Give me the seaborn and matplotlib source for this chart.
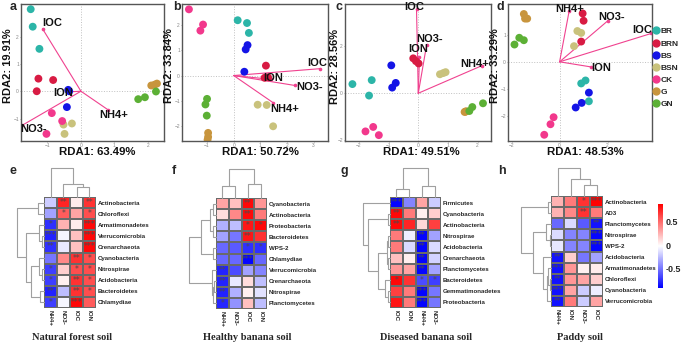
import numpy as np
import pandas as pd
import matplotlib
matplotlib.use('Agg')
import matplotlib.pyplot as plt
from matplotlib.lines import Line2D
import seaborn as sns

# ---------------- data ----------------
groups = ['BR', 'BRN', 'BS', 'BSN', 'CK', 'G', 'GN']
group_col = [g for g in groups for _ in range(3)]
palette = {'BR': '#2cb5a8', 'BRN': '#d81b43', 'BS': '#1414e6', 'BSN': '#c9c27c',
           'CK': '#f2388c', 'G': '#c8953d', 'GN': '#5cb035'}
env = ['IOC', 'ION', 'NO3-', 'NH4+']

a_x = [-1.50, -1.44, -1.24, -1.27, -0.83, -1.32, -0.38, -0.42, -0.35, -0.52, -0.27, -0.49,
       -0.87, -0.56, -1.03, 2.10, 2.27, 2.20, 1.71, 1.91, 2.24]
a_y = [3.00, 2.36, 1.55, 0.46, 0.41, 0.00, 0.05, -0.58, 0.00, -1.22, -1.18, -1.56,
       -0.80, -1.09, -1.56, 0.21, 0.28, 0.24, -0.29, -0.22, -0.01]
b_x = [0.15, 0.50, 0.57, 1.21, 1.16, 1.29, 0.52, 0.45, 0.40, 0.90, 1.24, 1.48,
       -1.68, -1.15, -1.25, -0.96, -0.96, -0.98, -1.00, -1.06, -1.01]
b_y = [2.18, 2.07, 1.68, 0.39, -0.09, -0.07, 1.20, 1.03, 0.15, -1.15, -1.16, -2.00,
       2.61, 2.01, 1.77, -2.26, -2.42, -2.53, -0.92, -1.14, -1.58]
c_x = [-2.22, -1.57, -1.66, -0.17, -0.08, 0.01, -0.91, -0.76, -0.88, 0.73, 0.92, 0.84,
       -1.78, -1.52, -1.33, 1.56, 1.61, 1.59, 1.72, 1.82, 2.18]
c_y = [0.39, 0.56, -0.10, 1.49, 1.37, 1.27, 1.19, 0.44, 0.24, 0.81, 0.90, 0.86,
       -1.63, -1.44, -1.79, -0.80, -0.77, -0.79, -0.76, -0.59, -0.43]
d_x = [0.90, 1.08, 1.22, 0.96, 1.00, 0.90, 1.22, 0.92, 0.67, 0.74, 0.90, 0.60,
       -0.25, -0.38, -0.64, -1.49, -1.44, -1.35, -1.88, -1.68, -1.49]
d_y = [-0.80, -0.69, -1.46, 1.79, 1.52, 0.75, -1.14, -1.52, -1.69, 1.14, 1.07, 0.58,
       -2.05, -2.31, -2.70, 1.77, 1.60, 1.60, 0.64, 0.89, 0.80]

a_env_x = [-1.14, -0.33, -1.76, 0.81]
a_env_y = [2.27, -0.02, -1.25, -0.68]
b_env_x = [3.23, 1.41, 2.29, 1.48]
b_env_y = [0.27, -0.15, -0.39, -1.07]
c_env_x = [-0.06, 0.04, 0.28, 2.13]
c_env_y = [3.59, 1.55, 2.06, 1.17]
d_env_x = [3.82, 1.32, 2.01, 0.40]
d_env_y = [1.05, -0.19, 1.52, 1.89]

rda1_labels = ['RDA1: 63.49%', 'RDA1: 50.72%', 'RDA1: 49.51%', 'RDA1: 48.53%']
rda2_labels = ['RDA2: 19.91%', 'RDA2: 33.84%', 'RDA2: 28.56%', 'RDA2: 33.29%']

e_rows = ['Actinobacteria', 'Chloroflexi', 'Armatimonadetes', 'Verrucomicrobia', 'Crenarchaeota',
          'Cyanobacteria', 'Nitrospirae', 'Acidobacteria', 'Bacteroidetes', 'Chlamydiae']
e_cols = ['NH4+', 'NO3-', 'IOC', 'ION']
e_vals = [[-0.20, 0.75, 0.05, 0.70], [-0.35, 0.55, 0.30, 0.60], [-0.75, 0.25, 0.05, 0.85],
          [-0.80, -0.05, 0.20, 0.85], [-0.75, -0.10, 0.20, 0.85], [-0.50, 0.40, 0.70, 0.60],
          [-0.70, 0.15, 0.60, 0.60], [-0.70, 0.03, 0.70, 0.60], [-0.80, -0.25, 0.70, 0.60],
          [-0.70, -0.05, 0.85, 0.55]]
e_sig = [['', '**', '', '**'], ['', '*', '', '*'], ['*', '', '', '***'], ['***', '', '', '***'],
         ['**', '', '', '***'], ['', '', '**', '*'], ['*', '', '*', '*'], ['*', '', '**', '*'],
         ['**', '', '**', '*'], ['*', '', '***', '']]

f_rows = ['Cyanobacteria', 'Actinobacteria', 'Proteobacteria', 'Bacteroidetes', 'WPS-2',
          'Chlamydiae', 'Verrucomicrobia', 'Crenarchaeota', 'Nitrospirae', 'Planctomycetes']
f_cols = ['NH4+', 'NO3-', 'IOC', 'ION']
f_vals = [[0.30, 0.20, 0.85, 0.35], [0.10, 0.40, 0.85, 0.45], [-0.30, -0.25, 0.80, 0.85],
          [-0.35, -0.50, 0.80, 0.70], [-0.55, -0.60, -0.75, -0.75], [-0.55, -0.55, -0.90, -0.55],
          [-0.80, -0.65, -0.35, -0.45], [-0.80, -0.10, 0.10, -0.25], [-0.80, -0.30, 0.03, -0.12],
          [-0.78, -0.40, 0.20, -0.25]]
f_sig = [['', '', '**', ''], ['', '', '**', ''], ['', '', '*', '*'], ['', '', '**', ''],
         ['', '', '*', '*'], ['', '', '***', ''], ['**', '', '', ''], ['**', '', '', ''],
         ['**', '', '', ''], ['*', '', '', '']]

g_rows = ['Firmicutes', 'Cyanobacteria', 'Actinobacteria', 'Nitrospirae', 'Acidobacteria',
          'Crenarchaeota', 'Planctomycetes', 'Bacteroidetes', 'Gemmatimonadetes', 'Proteobacteria']
g_cols = ['IOC', 'ION', 'NH4+', 'NO3-']
g_vals = [[-0.90, -0.45, 0.30, -0.20], [0.85, 0.45, 0.03, 0.15], [0.85, 0.75, 0.12, 0.65],
          [0.45, -0.08, -0.90, -0.35], [0.45, -0.15, -0.90, -0.15], [0.20, 0.04, -0.90, -0.18],
          [0.35, 0.30, -0.90, -0.35], [0.85, 0.70, -0.65, -0.70], [0.65, 0.45, -0.90, -0.50],
          [0.80, 0.45, -0.90, -0.50]]
g_sig = [['***', '', '', ''], ['**', '', '', ''], ['**', '', '', ''], ['', '', '**', ''],
         ['', '', '**', ''], ['', '', '**', ''], ['', '', '**', ''], ['*', '', '*', '*'],
         ['', '', '***', ''], ['', '', '***', '']]

h_rows = ['Actinobacteria', 'AD3', 'Planctomycetes', 'Nitrospirae', 'WPS-2', 'Acidobacteria',
          'Armatimonadetes', 'Chloroflexi', 'Cyanobacteria', 'Verrucomicrobia']
h_cols = ['NH4+', 'ION', 'NO3-', 'IOC']
h_vals = [[0.25, 0.45, 0.70, 0.87], [0.25, 0.40, 0.70, 0.45], [-0.55, -0.15, -0.60, -0.85],
          [-0.15, -0.45, -0.45, -0.90], [-0.10, -0.45, -0.45, -0.90], [-0.85, 0.15, -0.50, -0.35],
          [-0.85, 0.35, 0.03, 0.05], [-0.85, 0.35, 0.30, 0.15], [-0.85, 0.30, -0.20, -0.08],
          [-0.85, 0.45, -0.20, 0.30]]
h_sig = [['', '', '*', '***'], ['', '', '**', ''], ['', '', '', '**'], ['', '', '', '***'],
         ['', '', '', '***'], ['**', '', '', ''], ['***', '', '', ''], ['**', '', '', ''],
         ['***', '', '', ''], ['**', '', '', '']]

# dendrogram merges (a, b, height); new cluster ids start at n
e_row_tree = [(3, 4, 0.09), (2, 10, 0.18), (0, 1, 0.21), (6, 7, 0.09), (5, 13, 0.18),
              (8, 9, 0.13), (14, 15, 0.50), (11, 16, 0.65), (12, 17, 1.0)]
e_col_tree = [(2, 3, 0.34), (1, 4, 0.44), (0, 5, 1.0)]
f_row_tree = [(0, 1, 0.10), (2, 3, 0.12), (10, 11, 0.22), (4, 5, 0.10), (12, 13, 0.55),
              (7, 8, 0.06), (15, 9, 0.10), (6, 16, 0.16), (14, 17, 1.0)]
f_col_tree = [(0, 1, 0.40), (2, 3, 0.48), (4, 5, 1.0)]
g_row_tree = [(1, 2, 0.09), (3, 4, 0.06), (5, 6, 0.06), (11, 12, 0.12), (8, 9, 0.06),
              (7, 14, 0.19), (13, 15, 0.44), (10, 16, 0.81), (0, 17, 1.0)]
g_col_tree = [(0, 1, 0.27), (2, 3, 0.39), (4, 5, 1.0)]
h_row_tree = [(0, 1, 0.09), (3, 4, 0.05), (2, 11, 0.16), (7, 8, 0.05), (6, 13, 0.09),
              (14, 9, 0.13), (5, 15, 0.27), (12, 16, 0.60), (10, 17, 1.0)]
h_col_tree = [(2, 3, 0.40), (1, 4, 0.60), (0, 5, 1.0)]

titles = ['Natural forest soil', 'Healthy banana soil', 'Diseased banana soil', 'Paddy soil']

# ---------------- style ----------------
sns.set_theme(style='white')
plt.rcParams['font.family'] = ['Liberation Sans', 'DejaVu Sans']

W, H = 685, 344
fig = plt.figure(figsize=(W / 100, H / 100), dpi=100)
fig.patch.set_facecolor('white')


def fa(x0, y0, x1, y1):
    return fig.add_axes([x0 / W, 1 - y1 / H, (x1 - x0) / W, (y1 - y0) / H])


PINK = '#f0428f'

top_boxes = [(21, 4, 164, 141), (182, 4, 328, 141), (345, 4, 491, 141), (508, 4, 652, 141)]
limits = [((-1.79, 2.48), (-1.82, 3.19)), ((-1.94, 3.54), (-2.58, 2.82)),
          ((-2.47, 2.45), (-2.04, 3.81)), ((-2.15, 3.85), (-2.93, 2.14))]
xticks = [[-1, 0, 1, 2], [-1, 0, 1, 2, 3], [-2, -1, 0, 1, 2], [-2, 0, 2]]
yticks = [[-1, 0, 1, 2], [-2, -1, 0, 1, 2], [-2, 0, 2], [-2, -1, 0, 1]]
# label offsets in px (IOC, ION, NO3-, NH4+)
offsets = [[(9, 6), (-7, -1), (12, -4), (6, -5)],
           [(-3, 6), (2, 1), (15, -2), (12, -6)],
           [(-2, 2), (-1, 8), (3, 6), (-7, 2)],
           [(-9, 3), (10, -1), (4, 4), (0, 2)]]
pts = [(a_x, a_y), (b_x, b_y), (c_x, c_y), (d_x, d_y)]
envs = [(a_env_x, a_env_y), (b_env_x, b_env_y), (c_env_x, c_env_y), (d_env_x, d_env_y)]
letters_top = ['a', 'b', 'c', 'd']
letter_top_x = [13, 177, 339, 500]
ylab_px = [8.5, 168.5, 334.5, 495.5]
xlab_px = [97, 260, 421, 585]

for i in range(4):
    bx0, by0, bx1, by1 = top_boxes[i]
    ax = fa(bx0, by0, bx1, by1)
    xs, ys = pts[i]
    df = pd.DataFrame({'x': xs, 'y': ys, 'g': group_col})
    ax.axhline(0, color='#c0c0c0', ls=':', lw=0.7, zorder=0)
    ax.axvline(0, color='#c0c0c0', ls=':', lw=0.7, zorder=0)
    ex, ey = envs[i]
    for lbl, x, y, (dx, dy) in zip(env, ex, ey, offsets[i]):
        ax.plot([0, x], [0, y], color=PINK, lw=0.8, zorder=1)
        ax.plot([x], [y], 'o', color=PINK, ms=1.6, zorder=1)
    sns.scatterplot(data=df, x='x', y='y', hue='g', hue_order=groups, palette=palette,
                    s=32, edgecolor='none', legend=False, ax=ax, zorder=2)
    for lbl, x, y, (dx, dy) in zip(env, ex, ey, offsets[i]):
        ax.annotate(lbl, (x, y), xytext=(dx * 0.72, dy * 0.72), textcoords='offset points',
                    ha='center', va='center', fontsize=8, fontweight='bold', color='#111', zorder=3)
    ax.set_xlim(*limits[i][0])
    ax.set_ylim(*limits[i][1])
    ax.set_xticks(xticks[i])
    ax.set_yticks(yticks[i])
    ax.tick_params(labelsize=3.5, colors='#888', length=1, width=0.5, pad=0.5,
                   bottom=True, left=True)
    for s in ax.spines.values():
        s.set_color('#555')
        s.set_linewidth(1.0)
    ax.set_xlabel(rda1_labels[i], fontsize=8.2, fontweight='bold', color='#111', va='center')
    ax.set_ylabel(rda2_labels[i], fontsize=8, fontweight='bold', color='#111', va='center')
    bw, bh = bx1 - bx0, by1 - by0
    ax.xaxis.set_label_coords((xlab_px[i] - bx0) / bw, (by1 - 152) / bh)
    ax.yaxis.set_label_coords((ylab_px[i] - bx0) / bw, (by1 - 66) / bh)
    fig.text(letter_top_x[i] / W, 1 - 7 / H, letters_top[i], fontsize=9, fontweight='bold',
             ha='center', va='center')

handles = [Line2D([], [], marker='o', ls='', color=palette[g], markersize=5) for g in groups]
fig.legend(handles, groups, loc='upper left', bbox_to_anchor=(653 / W, 1 - 27.5 / H),
           frameon=False, prop={'size': 6, 'weight': 'bold'}, handlelength=0.6,
           handletextpad=0.3, labelspacing=0.52, borderpad=0, borderaxespad=0)


def draw_tree(ax, tree, n, orient):
    pos = {k: k + 0.5 for k in range(n)}
    hgt = {k: 0.0 for k in range(n)}
    for k, (a, b, h) in enumerate(tree):
        pa, pb, ha, hb = pos[a], pos[b], hgt[a], hgt[b]
        p = [pa, pa, pb, pb]
        q = [ha, h, h, hb]
        if orient == 'top':
            ax.plot(p, q, color='#a0a0a0', lw=0.8, clip_on=False)
        else:
            ax.plot(q, p, color='#a0a0a0', lw=0.8, clip_on=False)
        pos[n + k] = (pa + pb) / 2
        hgt[n + k] = h
    if orient == 'top':
        ax.set_xlim(0, n)
        ax.set_ylim(0, 1)
    else:
        ax.set_ylim(n, 0)
        ax.set_xlim(1, 0)
    ax.axis('off')


hm_sets = [(e_rows, e_cols, e_vals, e_sig, e_row_tree, e_col_tree),
           (f_rows, f_cols, f_vals, f_sig, f_row_tree, f_col_tree),
           (g_rows, g_cols, g_vals, g_sig, g_row_tree, g_col_tree),
           (h_rows, h_cols, h_vals, h_sig, h_row_tree, h_col_tree)]
hm_boxes = [(44, 197, 96, 308), (216, 198, 267, 309), (390, 197, 441, 308), (551, 196, 603, 307)]
rowd_left = [17, 189, 363, 521]
cold_top = [168, 169, 168, 168]
title_x = [72, 247, 426, 580]
letters_bot = ['e', 'f', 'g', 'h']
letter_bot_x = [13, 174, 344, 502]

VMIN, VMAX = -0.92, 0.88
last_mesh = None
for i in range(4):
    rows, cols, vals, sig, rtree, ctree = hm_sets[i]
    x0, y0, x1, y1 = hm_boxes[i]
    ax = fa(x0, y0, x1, y1)
    df = pd.DataFrame(vals, index=rows, columns=cols)
    sns.heatmap(df, ax=ax, cmap='bwr', vmin=VMIN, vmax=VMAX, cbar=False,
                linewidths=0.35, linecolor='#6a6a6a', xticklabels=cols, yticklabels=rows,
                annot=np.array(sig), fmt='',
                annot_kws={'size': 5.5, 'color': '#4a4a4a', 'family': 'DejaVu Sans'})
    last_mesh = ax.collections[0]
    ax.yaxis.tick_right()
    ax.tick_params(length=0, pad=1.5)
    for t in ax.get_yticklabels():
        t.set_rotation(0)
        t.set_fontsize(4.4)
        t.set_fontweight('bold')
    for t in ax.get_xticklabels():
        t.set_rotation(270)
        t.set_fontsize(4.5)
        t.set_fontweight('bold')
    ax.set_xlabel('')
    ax.set_ylabel('')
    rax = fa(rowd_left[i], y0, x0, y1)
    draw_tree(rax, rtree, len(rows), 'left')
    cax = fa(x0, cold_top[i], x1, y0)
    draw_tree(cax, ctree, len(cols), 'top')
    fig.text(title_x[i] / W, 1 - 337 / H, titles[i], fontsize=7.5, fontweight='bold',
             family='Liberation Serif', ha='center', va='center')
    fig.text(letter_bot_x[i] / W, 1 - 171 / H, letters_bot[i], fontsize=9, fontweight='bold',
             ha='center', va='center')

cbax = fa(658, 204, 663, 288)
cb = fig.colorbar(last_mesh, cax=cbax, ticks=[-0.5, 0, 0.5])
cb.outline.set_visible(False)
cb.ax.tick_params(length=0, labelsize=6.5, pad=2)
cb.ax.set_yticklabels(['-0.5', '0', '0.5'], fontweight='bold')

fig.savefig('out.png', dpi=100)
